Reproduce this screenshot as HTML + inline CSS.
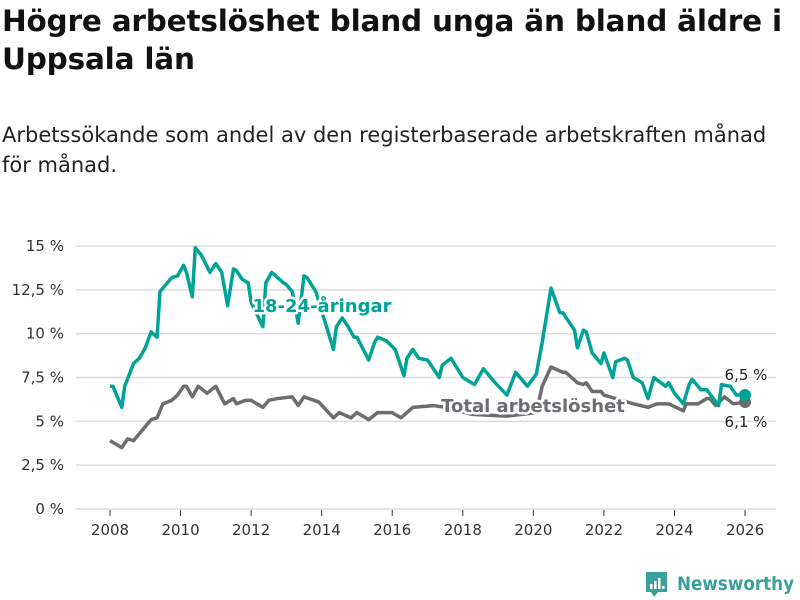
<!DOCTYPE html>
<html><head><meta charset="utf-8"><style>
body{margin:0;width:800px;height:600px;background:#fff;font-family:"Liberation Sans","DejaVu Sans",sans-serif;overflow:hidden;position:relative}
h1{position:absolute;left:2px;top:2px;margin:0;font-size:29.5px;line-height:38px;font-weight:bold;color:#111;white-space:nowrap;font-family:"DejaVu Sans","Liberation Sans",sans-serif;letter-spacing:-0.2px}
.sub{position:absolute;left:2px;top:120px;margin:0;font-size:21px;line-height:30px;color:#222;font-family:"DejaVu Sans","Liberation Sans",sans-serif;letter-spacing:0px;white-space:nowrap}
svg{position:absolute;left:0;top:0}
</style></head><body>
<h1>Högre arbetslöshet bland unga än bland äldre i<br>Uppsala län</h1>
<p class="sub">Arbetssökande som andel av den registerbaserade arbetskraften månad<br>för månad.</p>
<svg id="c" width="800" height="600"></svg>
<script>
const yTicks=[0,2.5,5,7.5,10,12.5,15];
const yTickLabels=["0 %","2,5 %","5 %","7,5 %","10 %","12,5 %","15 %"];
const xTicks=[2008,2010,2012,2014,2016,2018,2020,2022,2024,2026];
// months since Jan 2008
const youthMonths=[0,1,4,5,8,10,12,14,16,17,21,23,25,26,28,29,31,34,36,38,40,42,43,45,47,48,52,53,55,57,59,60,62,64,66,67,70,76,77,79,81,83,84,88,90,91,94,97,100,101,103,105,108,112,113,116,120,124,127,131,135,138,142,145,147,150,153,154,158,159,161,162,164,167,168,171,172,175,176,178,181,183,185,189,190,192,195,197,198,201,203,207,208,211,213,216];
const youthValues=[7.0,7.0,5.8,7.0,8.3,8.6,9.2,10.1,9.8,12.4,13.2,13.3,13.9,13.5,12.1,14.9,14.5,13.5,14.0,13.5,11.6,13.7,13.6,13.1,12.9,11.8,10.4,12.9,13.5,13.2,12.9,12.8,12.4,10.6,13.3,13.2,12.4,9.1,10.4,10.9,10.4,9.8,9.8,8.5,9.5,9.8,9.6,9.1,7.6,8.6,9.1,8.6,8.5,7.5,8.2,8.6,7.5,7.1,8.0,7.2,6.5,7.8,7.0,7.7,9.5,12.6,11.2,11.2,10.2,9.2,10.2,10.1,8.9,8.3,8.9,7.5,8.4,8.6,8.5,7.5,7.2,6.3,7.5,7.0,7.2,6.6,6.0,7.1,7.4,6.8,6.8,5.9,7.1,7.0,6.5,6.5];
const totalMonths=[0,4,6,8,12,14,16,18,21,23,25,26,28,30,33,36,39,42,43,46,48,52,54,57,62,64,66,71,76,78,82,84,88,91,96,99,103,110,114,123,135,145,147,150,154,155,159,161,162,164,167,168,178,183,186,190,195,196,200,203,204,206,209,212,216];
const totalValues=[3.9,3.5,4.0,3.9,4.7,5.1,5.2,6.0,6.2,6.5,7.0,7.0,6.4,7.0,6.6,7.0,6.0,6.3,6.0,6.2,6.2,5.8,6.2,6.3,6.4,5.9,6.4,6.1,5.2,5.5,5.2,5.5,5.1,5.5,5.5,5.2,5.8,5.9,5.8,5.4,5.3,5.5,7.0,8.1,7.8,7.8,7.2,7.1,7.2,6.7,6.7,6.5,6.0,5.8,6.0,6.0,5.6,6.0,6.0,6.3,6.3,5.9,6.4,6.0,6.1];
const NS="http://www.w3.org/2000/svg",svg=document.getElementById('c');
const X=m=>110+m/12*35.28, Y=v=>509-v*17.53;
function el(t,a,p){const e=document.createElementNS(NS,t);for(const k in a)e.setAttribute(k,a[k]);(p||svg).appendChild(e);return e;}
yTicks.forEach((v,i)=>{
 const g=el('line',{x1:76,x2:776,y1:Y(v),y2:Y(v),stroke:'#dcdcdc','stroke-width':1.5});
 
 
 const t=el('text',{x:64,y:Y(v)+5,'text-anchor':'end','font-size':15,fill:'#333','font-family':'DejaVu Sans, sans-serif'});
 t.textContent=yTickLabels[i];
 
 
});
xTicks.forEach(y=>{
 const x=X((y-2008)*12);
 const l=el('line',{x1:x,x2:x,y1:510,y2:516,stroke:'#333','stroke-width':1});
 
 
 const t=el('text',{x:x,y:535,'text-anchor':'middle','font-size':15,fill:'#333','font-family':'DejaVu Sans, sans-serif'});
 t.textContent=y;
 
 
});
function line(ms,vs,col,name){
 const p=el('polyline',{points:ms.map((m,i)=>X(m)+','+Y(vs[i])).join(' '),fill:'none',stroke:col,'stroke-width':3.5,'stroke-linejoin':'round'});
 
 
 const c=el('circle',{cx:X(ms[ms.length-1]),cy:Y(vs[vs.length-1]),r:6,fill:col});
 
 
}
line(totalMonths,totalValues,'#6d6c70','total-line');
line(youthMonths,youthValues,'#00a396','youth-line');
function lab(x,y,txt,col,name,size,bold,anchor){
 const t=el('text',{x:x,y:y,'text-anchor':anchor||'middle','font-size':size,'font-weight':bold?'bold':'normal',fill:col,stroke:'#fff','stroke-width':bold?5:3,'paint-order':'stroke','stroke-linejoin':'round','font-family':'DejaVu Sans, sans-serif'});
 t.textContent=txt;
 
 
}
lab(322,312,'18-24-åringar','#00a396','youth-series-label',18,true);
lab(533,412,'Total arbetslöshet','#6d6c70','total-series-label',18,true);
lab(746,380,'6,5 %','#222','youth-end-value',15,false);
lab(746,427,'6,1 %','#222','total-end-value',15,false);
</script>
<svg width="800" height="600" style="pointer-events:none">
<path d="M646 572h21v20h-9l-4 5-3-5h-5z" fill="#3aa19a"/>
<rect x="650" y="584" width="2.5" height="5" fill="#fff"/><rect x="654" y="581" width="2.5" height="8" fill="#fff"/><rect x="658" y="578" width="2.5" height="11" fill="#fff"/><rect x="662" y="586" width="2.5" height="3" fill="#fff"/>
<text x="677" y="590" font-size="19" font-weight="bold" fill="#3aa19a" font-family="DejaVu Sans, sans-serif" textLength="117" lengthAdjust="spacingAndGlyphs">Newsworthy</text>
</svg>
</body></html>
